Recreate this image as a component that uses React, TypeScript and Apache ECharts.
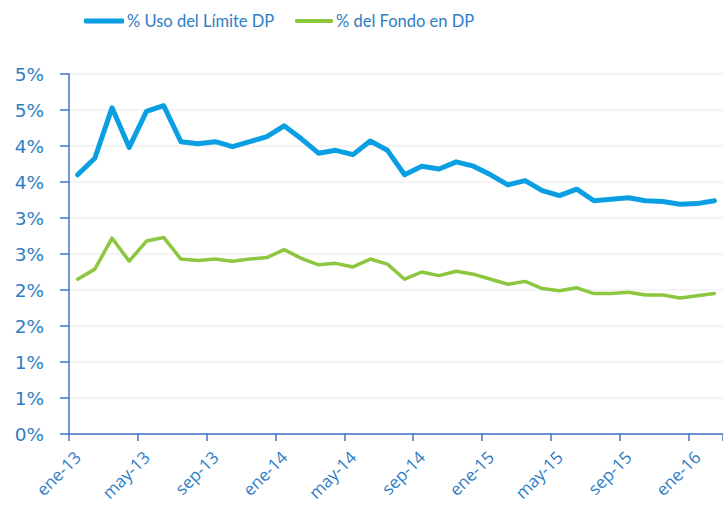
import React, { useEffect, useRef } from "react";
import * as echarts from "echarts";

const months = ["ene", "feb", "mar", "abr", "may", "jun", "jul", "ago", "sep", "oct", "nov", "dic"];
const years = ["13", "14", "15", "16"];
const categories: string[] = [];
years.forEach((y) => months.forEach((m) => categories.push(`${m}-${y}`)));
const cats = categories.slice(0, 38);

const usoLimite = [
  3.6, 3.83, 4.53, 3.98, 4.48, 4.56, 4.06, 4.03, 4.06, 3.99, 4.06, 4.13,
  4.28, 4.1, 3.9, 3.94, 3.88, 4.07, 3.94, 3.6, 3.72, 3.68, 3.78, 3.72,
  3.6, 3.46, 3.52, 3.38, 3.31, 3.4, 3.24, 3.26, 3.28, 3.24, 3.23, 3.19,
  3.2, 3.24,
];
const fondo = [
  2.15, 2.29, 2.72, 2.4, 2.68, 2.73, 2.43, 2.41, 2.43, 2.4, 2.43, 2.45,
  2.56, 2.44, 2.35, 2.37, 2.32, 2.43, 2.36, 2.15, 2.25, 2.2, 2.26, 2.22,
  2.15, 2.08, 2.12, 2.02, 1.99, 2.03, 1.95, 1.95, 1.97, 1.93, 1.93, 1.89,
  1.92, 1.95,
];
const seriesNames = ["% Uso del Límite DP", "% del Fondo en DP"];

const textColor = "#2F7DC4";
const axisColor = "#4472C4";
const blue = "#0A9FE3";
const green = "#8DC63F";

export default function App() {
  const ref = useRef<HTMLDivElement>(null);
  useEffect(() => {
    if (!ref.current) return;
    const chart = echarts.init(ref.current, undefined, { renderer: "svg" });
    const legendText = {
      color: textColor,
      fontSize: 16.5,
      fontFamily: "Lato, 'Open Sans', sans-serif",
      lineHeight: 22,
      padding: [0, 0, 0, -2],
    };
    chart.setOption({
      animation: false,
      backgroundColor: "#ffffff",
      legend: [
        {
          data: [seriesNames[0]],
          left: 84,
          top: 10,
          padding: 0,
          itemWidth: 40,
          itemHeight: 5,
          icon: "roundRect",
          textStyle: legendText,
        },
        {
          data: [seriesNames[1]],
          left: 295,
          top: 10,
          padding: 0,
          itemWidth: 38,
          itemHeight: 4,
          icon: "roundRect",
          textStyle: legendText,
        },
      ],
      grid: { left: 69, top: 74, width: 657, height: 360, containLabel: false },
      xAxis: {
        type: "category",
        data: cats,
        boundaryGap: true,
        axisLine: { show: true, lineStyle: { color: axisColor, width: 1.5 } },
        axisTick: { show: true, interval: 3, length: 7, lineStyle: { color: axisColor, width: 1.5 } },
        axisLabel: {
          interval: 3,
          rotate: 45,
          margin: 20,
          color: textColor,
          fontSize: 17,
          fontFamily: "'Open Sans', sans-serif",
        },
        splitLine: { show: false },
      },
      yAxis: {
        type: "value",
        min: 0,
        max: 5,
        interval: 0.5,
        axisLine: { show: true, lineStyle: { color: axisColor, width: 1.5 } },
        axisTick: { show: true, length: 9, lineStyle: { color: axisColor, width: 1.5 } },
        axisLabel: {
          margin: 25,
          color: textColor,
          fontSize: 18.5,
          fontFamily: "'DejaVu Sans', sans-serif",
          formatter: (v: number) => `${Math.round(v)}%`,
        },
        splitLine: { show: true, lineStyle: { color: "#F0F0F0", width: 1.5 } },
      },
      series: [
        {
          name: seriesNames[0],
          type: "line",
          data: usoLimite,
          showSymbol: false,
          symbol: "none",
          color: blue,
          lineStyle: { color: blue, width: 5, cap: "round", join: "round" },
        },
        {
          name: seriesNames[1],
          type: "line",
          data: fondo,
          showSymbol: false,
          symbol: "none",
          color: green,
          lineStyle: { color: green, width: 3.5, cap: "round", join: "round" },
        },
      ],
    });
    return () => chart.dispose();
  }, []);
  return (
    <div
      ref={ref}
      style={{ position: "absolute", left: 0, top: 0, width: 723, height: 506 }}
    />
  );
}
